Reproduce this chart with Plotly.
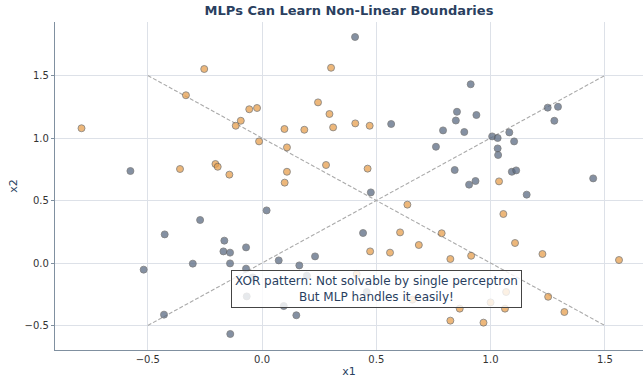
import plotly.graph_objects as go

# Class A (orange) points
orange_x1 = [-0.79, -0.253, -0.333, -0.056, -0.022, -0.093, -0.115, -0.013, -0.359, -0.204, -0.194, -0.143,
             0.302, 0.245, 0.295, 0.311, 0.408, 0.471, 0.098, 0.185, 0.109, 0.28, 0.462, 0.109, 0.099,
             1.037, 1.056, 1.107, 1.227, 1.562, 0.786, 0.824, 0.915, 1.252, 1.323, 0.865, 1.063, 0.824, 0.969,
             0.636, 0.604, 0.686, 0.473, 0.56, 0.414, 0.658, 1.0, 1.068]
orange_x2 = [1.078, 1.552, 1.342, 1.23, 1.24, 1.138, 1.098, 0.973, 0.752, 0.792, 0.77, 0.707,
             1.562, 1.285, 1.192, 1.085, 1.117, 1.098, 1.072, 1.066, 0.925, 0.784, 0.755, 0.73, 0.643,
             0.653, 0.392, 0.16, 0.072, 0.024, 0.238, 0.032, 0.058, -0.27, -0.392, -0.365, -0.365, -0.461, -0.477,
             0.467, 0.245, 0.144, 0.093, 0.083, -0.088, -0.293, -0.315, -0.232]

# Class B (slate) points
slate_x1 = [-0.576, 0.407, 0.565, 0.792, 0.761, 0.913, 0.853, 0.848, 0.938, 0.885, 1.007, 1.031, 1.082,
            1.103, 1.031, 1.033, 1.25, 1.295, 1.279, 0.843, 0.906, 0.934, 1.093, 1.112, 1.449, 1.158,
            0.476, 0.02, 0.442, 0.073, 0.163, 0.232, 0.196, -0.041, 0.458, 0.095, 0.15,
            -0.271, -0.426, -0.165, -0.169, -0.14, -0.07, -0.303, -0.14, -0.07, -0.518, -0.429, -0.139, -0.067]
slate_x2 = [0.736, 1.808, 1.112, 1.061, 0.93, 1.43, 1.21, 1.14, 1.184, 1.048, 1.013, 1.0, 1.045,
            0.973, 0.917, 0.864, 1.243, 1.25, 1.138, 0.744, 0.627, 0.656, 0.73, 0.741, 0.677, 0.547,
            0.565, 0.421, 0.24, 0.021, -0.019, 0.053, -0.101, -0.115, -0.232, -0.344, -0.418,
            0.344, 0.229, 0.179, 0.093, 0.083, 0.125, -0.005, -0.003, -0.045, -0.053, -0.413, -0.568, -0.267]

# Diagonal reference lines
diag1_x = [-0.5, 1.5]
diag1_y = [1.5, -0.5]
diag2_x = [-0.5, 1.5]
diag2_y = [-0.5, 1.5]

x_ticks = [-0.5, 0.0, 0.5, 1.0, 1.5]
y_ticks = [-0.5, 0.0, 0.5, 1.0, 1.5]
tick_text = ["−0.5", "0.0", "0.5", "1.0", "1.5"]

FONT = "DejaVu Sans"
NAVY = "#2a3f5f"

fig = go.Figure()
for xs, ys in [(diag1_x, diag1_y), (diag2_x, diag2_y)]:
    fig.add_trace(go.Scatter(x=xs, y=ys, mode="lines",
                             line=dict(color="#aaaaaa", width=1.1, dash="4px,2px"),
                             showlegend=False, hoverinfo="skip"))

fig.add_trace(go.Scatter(x=orange_x1, y=orange_x2, mode="markers",
                         marker=dict(size=7, color="rgb(232,160,78)", opacity=0.75,
                                     line=dict(color="#555555", width=0.8)),
                         showlegend=False))
fig.add_trace(go.Scatter(x=slate_x1, y=slate_x2, mode="markers",
                         marker=dict(size=7, color="rgb(92,108,132)", opacity=0.75,
                                     line=dict(color="#555555", width=0.8)),
                         showlegend=False))

fig.add_annotation(x=0.5, y=-0.21, xref="x", yref="y",
                   text="XOR pattern: Not solvable by single perceptron<br>But MLP handles it easily!",
                   showarrow=False, align="center",
                   font=dict(family=FONT, size=12, color=NAVY),
                   bgcolor="rgba(255,255,255,0.8)", bordercolor="#444444", borderwidth=1, borderpad=3)

fig.update_layout(
    width=643, height=378,
    margin=dict(l=55, r=0, t=22, b=28),
    paper_bgcolor="white", plot_bgcolor="white",
    title=dict(text="<b>MLPs Can Learn Non-Linear Boundaries</b>", x=0.5, xref="paper", xanchor="center",
               y=0.985, yanchor="top",
               font=dict(family=FONT, size=13, color=NAVY)),
    font=dict(family=FONT, size=10, color="#333333"),
)
fig.update_xaxes(range=[-0.906, 1.667], tickvals=x_ticks, ticktext=tick_text,
                 showgrid=True, gridcolor="#dde1e8", gridwidth=1,
                 showline=True, linecolor="#8090a0", linewidth=1.2, zeroline=False,
                 ticks="", title=dict(text="x1", font=dict(family=FONT, size=11, color=NAVY), standoff=3))
fig.update_yaxes(range=[-0.696, 1.928], tickvals=y_ticks, ticktext=tick_text,
                 showgrid=True, gridcolor="#dde1e8", gridwidth=1,
                 showline=True, linecolor="#8090a0", linewidth=1.2, zeroline=False,
                 ticks="outside", ticklen=3, tickcolor="#8090a0",
                 title=dict(text="x2", font=dict(family=FONT, size=11, color=NAVY), standoff=4))

fig.write_html("out.html")
